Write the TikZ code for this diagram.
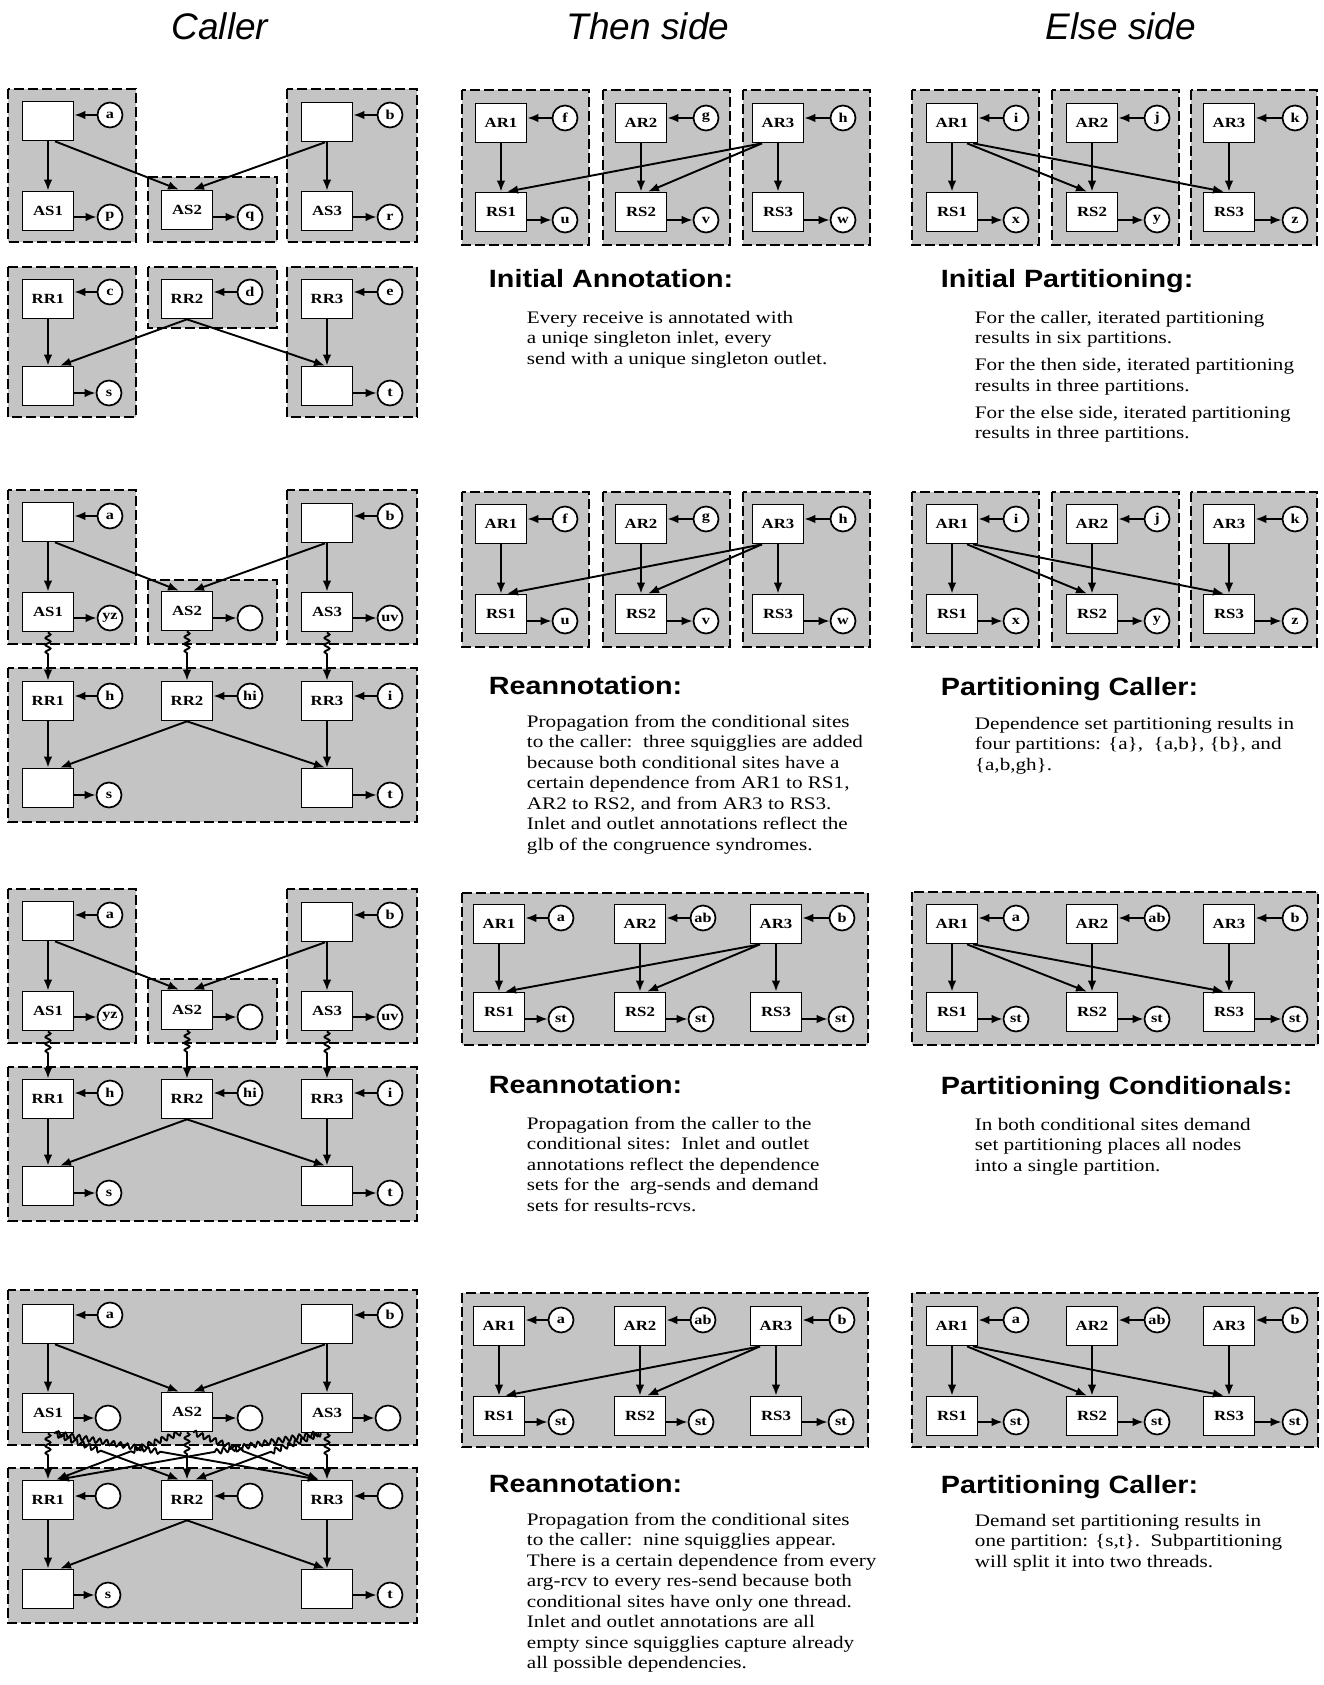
\documentclass[tikz,border=0pt]{standalone}
\usepackage{fontspec}
\setmainfont{Liberation Serif}[FakeStretch=1.2]
\newfontfamily\headfont{Liberation Sans}[FakeStretch=1.15]
\newfontfamily\titlefont{Liberation Sans}
\usetikzlibrary{arrows.meta,calc,decorations.pathmorphing}

\tikzset{
  opbox/.style={draw, rectangle, line width=1.7pt, fill=white, minimum width=51pt, minimum height=39pt, inner sep=0pt, font=\fontsize{14}{14}\selectfont\bfseries},
  tagcirc/.style={draw, circle, line width=1.7pt, fill=white, minimum size=25pt, inner sep=0pt, font=\fontsize{13.5}{13.5}\selectfont\bfseries},
  partbox/.style={draw, line width=2.3pt, dash pattern=on 10pt off 4pt, fill=black!23},
  headline/.style={anchor=base west, inner sep=0pt, font=\headfont\fontsize{25}{25}\selectfont\bfseries},
  notetext/.style={anchor=north west, align=left, inner sep=0pt, font=\fontsize{17.6}{20.5}\selectfont},
  coltitle/.style={anchor=base, inner sep=0pt, font=\titlefont\fontsize{37}{37}\selectfont\itshape},
  squig/.style={decoration={snake, amplitude=2.5pt, segment length=7pt}},
}

\begin{document}
\begin{tikzpicture}[x=1pt, y=-1pt, line width=1.9pt, >={Latex[length=11pt,width=8.5pt]}]
\fill[white] (0,0) rectangle (1323,1685);
\useasboundingbox (0,0) rectangle (1323,1685);

\node[coltitle] (caller) at (220,40) {Caller};
\node[coltitle] (thenside) at (648,40) {Then side};
\node[coltitle] (elseside) at (1121,40) {Else side};

% caller, row 1
\draw[partbox] (8,89) rectangle (136,242);
\draw[partbox] (148,177) rectangle (277,242);
\draw[partbox] (287,89) rectangle (417,242);
\draw[partbox] (8,267) rectangle (136,417);
\draw[partbox] (148,267) rectangle (277,328);
\draw[partbox] (287,267) rectangle (417,417);
\node[opbox] (c1tl) at (48,121) {};
\node[tagcirc] (c1tli) at (110,115) {a};
\node[opbox] (c1tr) at (327,122) {};
\node[tagcirc] (c1tri) at (390,115) {b};
\node[opbox] (c1as1) at (48,211) {AS1};
\node[tagcirc] (c1as1o) at (110,217) {p};
\node[opbox] (c1as2) at (187,210) {AS2};
\node[tagcirc] (c1as2o) at (250,217) {q};
\node[opbox] (c1as3) at (327,211) {AS3};
\node[tagcirc] (c1as3o) at (390,217) {r};
\node[opbox] (c1rr1) at (48,299) {RR1};
\node[tagcirc] (c1rr1i) at (110,292) {c};
\node[opbox] (c1rr2) at (187,299) {RR2};
\node[tagcirc] (c1rr2i) at (250,292) {d};
\node[opbox] (c1rr3) at (327,299) {RR3};
\node[tagcirc] (c1rr3i) at (390,292) {e};
\node[opbox] (c1bl) at (48,386) {};
\node[tagcirc] (c1blo) at (109,393) {s};
\node[opbox] (c1br) at (327,386) {};
\node[tagcirc] (c1bro) at (390,393) {t};
\draw[->] (c1tli) -- (c1tl.east |- c1tli);
\draw[->] (c1tri) -- (c1tr.east |- c1tri);
\draw[->] (c1as1.east |- c1as1o) -- (c1as1o);
\draw[->] (c1as2.east |- c1as2o) -- (c1as2o);
\draw[->] (c1as3.east |- c1as3o) -- (c1as3o);
\draw[->] (c1rr1i) -- (c1rr1.east |- c1rr1i);
\draw[->] (c1rr2i) -- (c1rr2.east |- c1rr2i);
\draw[->] (c1rr3i) -- (c1rr3.east |- c1rr3i);
\draw[->] (c1bl.east |- c1blo) -- (c1blo);
\draw[->] (c1br.east |- c1bro) -- (c1bro);
\draw[->] (c1tl) -- (c1as1);
\draw[->] ([xshift=7pt]c1tl.south) -- ([xshift=-8pt]c1as2.north);
\draw[->] ([xshift=-2pt]c1tr.south) -- ([xshift=6pt]c1as2.north);
\draw[->] (c1tr) -- (c1as3);
\draw[->] (c1rr1) -- (c1bl);
\draw[->] (c1rr2.south) -- ([xshift=12pt]c1bl.north);
\draw[->] (c1rr2.south) -- ([xshift=-2pt]c1br.north);
\draw[->] (c1rr3) -- (c1br);

% caller, row 2
\begin{scope}[shift={(0,401)}]
\draw[partbox] (8,89) rectangle (136,243);
\draw[partbox] (148,179) rectangle (277,243);
\draw[partbox] (287,89) rectangle (417,243);
\draw[partbox] (8,267) rectangle (417,421);
\node[opbox] (c2tl) at (48,121) {};
\node[tagcirc] (c2tli) at (110,115) {a};
\node[opbox] (c2tr) at (327,122) {};
\node[tagcirc] (c2tri) at (390,115) {b};
\node[opbox] (c2as1) at (48,211) {AS1};
\node[tagcirc] (c2as1o) at (110,217) {yz};
\node[opbox] (c2as2) at (187,210) {AS2};
\node[tagcirc] (c2as2o) at (250,217) {};
\node[opbox] (c2as3) at (327,211) {AS3};
\node[tagcirc] (c2as3o) at (390,217) {uv};
\node[opbox] (c2rr1) at (48,300) {RR1};
\node[tagcirc] (c2rr1i) at (110,295) {h};
\node[opbox] (c2rr2) at (187,300) {RR2};
\node[tagcirc] (c2rr2i) at (250,295) {hi};
\node[opbox] (c2rr3) at (327,300) {RR3};
\node[tagcirc] (c2rr3i) at (390,295) {i};
\node[opbox] (c2bl) at (48,387) {};
\node[tagcirc] (c2blo) at (109,394) {s};
\node[opbox] (c2br) at (327,387) {};
\node[tagcirc] (c2bro) at (390,394) {t};
\end{scope}
\draw[->] (c2tli) -- (c2tl.east |- c2tli);
\draw[->] (c2tri) -- (c2tr.east |- c2tri);
\draw[->] (c2as1.east |- c2as1o) -- (c2as1o);
\draw[->] (c2as2.east |- c2as2o) -- (c2as2o);
\draw[->] (c2as3.east |- c2as3o) -- (c2as3o);
\draw[->] (c2rr1i) -- (c2rr1.east |- c2rr1i);
\draw[->] (c2rr2i) -- (c2rr2.east |- c2rr2i);
\draw[->] (c2rr3i) -- (c2rr3.east |- c2rr3i);
\draw[->] (c2bl.east |- c2blo) -- (c2blo);
\draw[->] (c2br.east |- c2bro) -- (c2bro);
\draw[->] (c2tl) -- (c2as1);
\draw[->] ([xshift=7pt]c2tl.south) -- ([xshift=-8pt]c2as2.north);
\draw[->] ([xshift=-2pt]c2tr.south) -- ([xshift=6pt]c2as2.north);
\draw[->] (c2tr) -- (c2as3);
\draw[->] (c2as1.south) decorate[squig] {-- ($(c2as1.south)!0.5!(c2rr1.north)$)} -- (c2rr1.north);
\draw[->] (c2as2.south) decorate[squig] {-- ($(c2as2.south)!0.5!(c2rr2.north)$)} -- (c2rr2.north);
\draw[->] (c2as3.south) decorate[squig] {-- ($(c2as3.south)!0.5!(c2rr3.north)$)} -- (c2rr3.north);
\draw[->] (c2rr1) -- (c2bl);
\draw[->] (c2rr2.south) -- ([xshift=12pt]c2bl.north);
\draw[->] (c2rr2.south) -- ([xshift=-2pt]c2br.north);
\draw[->] (c2rr3) -- (c2br);

% caller, row 3
\begin{scope}[shift={(0,800)}]
\draw[partbox] (8,89) rectangle (136,243);
\draw[partbox] (148,179) rectangle (277,243);
\draw[partbox] (287,89) rectangle (417,243);
\draw[partbox] (8,267) rectangle (417,421);
\node[opbox] (c3tl) at (48,121) {};
\node[tagcirc] (c3tli) at (110,115) {a};
\node[opbox] (c3tr) at (327,122) {};
\node[tagcirc] (c3tri) at (390,115) {b};
\node[opbox] (c3as1) at (48,211) {AS1};
\node[tagcirc] (c3as1o) at (110,217) {yz};
\node[opbox] (c3as2) at (187,210) {AS2};
\node[tagcirc] (c3as2o) at (250,217) {};
\node[opbox] (c3as3) at (327,211) {AS3};
\node[tagcirc] (c3as3o) at (390,217) {uv};
\node[opbox] (c3rr1) at (48,299) {RR1};
\node[tagcirc] (c3rr1i) at (110,293) {h};
\node[opbox] (c3rr2) at (187,299) {RR2};
\node[tagcirc] (c3rr2i) at (250,293) {hi};
\node[opbox] (c3rr3) at (327,299) {RR3};
\node[tagcirc] (c3rr3i) at (390,293) {i};
\node[opbox] (c3bl) at (48,386) {};
\node[tagcirc] (c3blo) at (109,393) {s};
\node[opbox] (c3br) at (327,386) {};
\node[tagcirc] (c3bro) at (390,393) {t};
\end{scope}
\draw[->] (c3tli) -- (c3tl.east |- c3tli);
\draw[->] (c3tri) -- (c3tr.east |- c3tri);
\draw[->] (c3as1.east |- c3as1o) -- (c3as1o);
\draw[->] (c3as2.east |- c3as2o) -- (c3as2o);
\draw[->] (c3as3.east |- c3as3o) -- (c3as3o);
\draw[->] (c3rr1i) -- (c3rr1.east |- c3rr1i);
\draw[->] (c3rr2i) -- (c3rr2.east |- c3rr2i);
\draw[->] (c3rr3i) -- (c3rr3.east |- c3rr3i);
\draw[->] (c3bl.east |- c3blo) -- (c3blo);
\draw[->] (c3br.east |- c3bro) -- (c3bro);
\draw[->] (c3tl) -- (c3as1);
\draw[->] ([xshift=7pt]c3tl.south) -- ([xshift=-8pt]c3as2.north);
\draw[->] ([xshift=-2pt]c3tr.south) -- ([xshift=6pt]c3as2.north);
\draw[->] (c3tr) -- (c3as3);
\draw[->] (c3as1.south) decorate[squig] {-- ($(c3as1.south)!0.5!(c3rr1.north)$)} -- (c3rr1.north);
\draw[->] (c3as2.south) decorate[squig] {-- ($(c3as2.south)!0.5!(c3rr2.north)$)} -- (c3rr2.north);
\draw[->] (c3as3.south) decorate[squig] {-- ($(c3as3.south)!0.5!(c3rr3.north)$)} -- (c3rr3.north);
\draw[->] (c3rr1) -- (c3bl);
\draw[->] (c3rr2.south) -- ([xshift=12pt]c3bl.north);
\draw[->] (c3rr2.south) -- ([xshift=-2pt]c3br.north);
\draw[->] (c3rr3) -- (c3br);

% caller, row 4
\begin{scope}[shift={(0,1202)}]
\draw[partbox] (8,88) rectangle (417,243);
\draw[partbox] (8,266) rectangle (417,421);
\node[opbox] (c4tl) at (48,122) {};
\node[tagcirc] (c4tli) at (110,113) {a};
\node[opbox] (c4tr) at (327,122) {};
\node[tagcirc] (c4tri) at (390,113) {b};
\node[opbox] (c4as1) at (48,211) {AS1};
\node[tagcirc] (c4as1o) at (108,216) {};
\node[opbox] (c4as2) at (187,210) {AS2};
\node[tagcirc] (c4as2o) at (250,216) {};
\node[opbox] (c4as3) at (327,211) {AS3};
\node[tagcirc] (c4as3o) at (388,216) {};
\node[opbox] (c4rr1) at (48,298) {RR1};
\node[tagcirc] (c4rr1i) at (108,294) {};
\node[opbox] (c4rr2) at (187,298) {RR2};
\node[tagcirc] (c4rr2i) at (250,294) {};
\node[opbox] (c4rr3) at (327,298) {RR3};
\node[tagcirc] (c4rr3i) at (390,294) {};
\node[opbox] (c4bl) at (48,387) {};
\node[tagcirc] (c4blo) at (108,393) {s};
\node[opbox] (c4br) at (327,387) {};
\node[tagcirc] (c4bro) at (390,393) {t};
\end{scope}
\draw[->] (c4tli) -- (c4tl.east |- c4tli);
\draw[->] (c4tri) -- (c4tr.east |- c4tri);
\draw[->] (c4as1.east |- c4as1o) -- (c4as1o);
\draw[->] (c4as2.east |- c4as2o) -- (c4as2o);
\draw[->] (c4as3.east |- c4as3o) -- (c4as3o);
\draw[->] (c4rr1i) -- (c4rr1.east |- c4rr1i);
\draw[->] (c4rr2i) -- (c4rr2.east |- c4rr2i);
\draw[->] (c4rr3i) -- (c4rr3.east |- c4rr3i);
\draw[->] (c4bl.east |- c4blo) -- (c4blo);
\draw[->] (c4br.east |- c4bro) -- (c4bro);
\draw[->] (c4tl) -- (c4as1);
\draw[->] ([xshift=7pt]c4tl.south) -- ([xshift=-8pt]c4as2.north);
\draw[->] ([xshift=-2pt]c4tr.south) -- ([xshift=6pt]c4as2.north);
\draw[->] (c4tr) -- (c4as3);
\draw[->] (c4as1.south) decorate[squig] {-- ($(c4as1.south)!0.5!(c4rr1.north)$)} -- (c4rr1.north);
\draw[->] (c4as2.south) decorate[squig] {-- ($(c4as2.south)!0.5!(c4rr2.north)$)} -- (c4rr2.north);
\draw[->] (c4as3.south) decorate[squig] {-- ($(c4as3.south)!0.5!(c4rr3.north)$)} -- (c4rr3.north);
\draw[->] ([xshift=6pt]c4as1.south) decorate[squig] {-- ($([xshift=6pt]c4as1.south)!0.4!([xshift=-8pt]c4rr2.north)$)} -- ([xshift=-8pt]c4rr2.north);
\draw[->] ([xshift=8pt]c4as1.south) decorate[squig] {-- ($([xshift=8pt]c4as1.south)!0.4!([xshift=-8pt]c4rr3.north)$)} -- ([xshift=-8pt]c4rr3.north);
\draw[->] ([xshift=-6pt]c4as2.south) decorate[squig] {-- ($([xshift=-6pt]c4as2.south)!0.4!([xshift=8pt]c4rr1.north)$)} -- ([xshift=8pt]c4rr1.north);
\draw[->] ([xshift=6pt]c4as2.south) decorate[squig] {-- ($([xshift=6pt]c4as2.south)!0.4!([xshift=-8pt]c4rr3.north)$)} -- ([xshift=-8pt]c4rr3.north);
\draw[->] ([xshift=-8pt]c4as3.south) decorate[squig] {-- ($([xshift=-8pt]c4as3.south)!0.4!([xshift=10pt]c4rr1.north)$)} -- ([xshift=10pt]c4rr1.north);
\draw[->] ([xshift=-6pt]c4as3.south) decorate[squig] {-- ($([xshift=-6pt]c4as3.south)!0.4!([xshift=8pt]c4rr2.north)$)} -- ([xshift=8pt]c4rr2.north);
\draw[->] (c4rr1) -- (c4bl);
\draw[->] (c4rr2.south) -- ([xshift=12pt]c4bl.north);
\draw[->] (c4rr2.south) -- ([xshift=-2pt]c4br.north);
\draw[->] (c4rr3) -- (c4br);

% then side, row 1
\draw[partbox] (462,90) rectangle (589,245);
\draw[partbox] (603,90) rectangle (730,245);
\draw[partbox] (743,90) rectangle (870,245);
\node[opbox] (t1ar1) at (501,123) {AR1};
\node[tagcirc] (t1ar1i) at (565,118) {f};
\node[opbox] (t1ar2) at (641,123) {AR2};
\node[tagcirc] (t1ar2i) at (706,118) {g};
\node[opbox] (t1ar3) at (778,123) {AR3};
\node[tagcirc] (t1ar3i) at (843,118) {h};
\node[opbox] (t1rs1) at (501,212) {RS1};
\node[tagcirc] (t1rs1o) at (565,220) {u};
\node[opbox] (t1rs2) at (641,212) {RS2};
\node[tagcirc] (t1rs2o) at (706,220) {v};
\node[opbox] (t1rs3) at (778,212) {RS3};
\node[tagcirc] (t1rs3o) at (843,220) {w};
\draw[->] (t1ar1i) -- (t1ar1.east |- t1ar1i);
\draw[->] (t1ar2i) -- (t1ar2.east |- t1ar2i);
\draw[->] (t1ar3i) -- (t1ar3.east |- t1ar3i);
\draw[->] (t1rs1.east |- t1rs1o) -- (t1rs1o);
\draw[->] (t1rs2.east |- t1rs2o) -- (t1rs2o);
\draw[->] (t1rs3.east |- t1rs3o) -- (t1rs3o);
\draw[->] (t1ar1) -- (t1rs1);
\draw[->] (t1ar2) -- (t1rs2);
\draw[->] (t1ar3) -- (t1rs3);
\draw[->] ([xshift=-16pt]t1ar3.south) -- ([xshift=6pt]t1rs1.north);
\draw[->] ([xshift=-16pt]t1ar3.south) -- ([xshift=7pt]t1rs2.north);

% then side, row 2
\begin{scope}[shift={(0,401)}]
\draw[partbox] (462,91) rectangle (589,246);
\draw[partbox] (603,91) rectangle (730,246);
\draw[partbox] (743,91) rectangle (870,246);
\node[opbox] (t2ar1) at (501,123) {AR1};
\node[tagcirc] (t2ar1i) at (565,118) {f};
\node[opbox] (t2ar2) at (641,123) {AR2};
\node[tagcirc] (t2ar2i) at (706,118) {g};
\node[opbox] (t2ar3) at (778,123) {AR3};
\node[tagcirc] (t2ar3i) at (843,118) {h};
\node[opbox] (t2rs1) at (501,213) {RS1};
\node[tagcirc] (t2rs1o) at (565,220) {u};
\node[opbox] (t2rs2) at (641,213) {RS2};
\node[tagcirc] (t2rs2o) at (706,220) {v};
\node[opbox] (t2rs3) at (778,213) {RS3};
\node[tagcirc] (t2rs3o) at (843,220) {w};
\end{scope}
\draw[->] (t2ar1i) -- (t2ar1.east |- t2ar1i);
\draw[->] (t2ar2i) -- (t2ar2.east |- t2ar2i);
\draw[->] (t2ar3i) -- (t2ar3.east |- t2ar3i);
\draw[->] (t2rs1.east |- t2rs1o) -- (t2rs1o);
\draw[->] (t2rs2.east |- t2rs2o) -- (t2rs2o);
\draw[->] (t2rs3.east |- t2rs3o) -- (t2rs3o);
\draw[->] (t2ar1) -- (t2rs1);
\draw[->] (t2ar2) -- (t2rs2);
\draw[->] (t2ar3) -- (t2rs3);
\draw[->] ([xshift=-16pt]t2ar3.south) -- ([xshift=6pt]t2rs1.north);
\draw[->] ([xshift=-16pt]t2ar3.south) -- ([xshift=7pt]t2rs2.north);

% then side, row 3
\begin{scope}[shift={(0,800)}]
\draw[partbox] (462,93) rectangle (868,245);
\node[opbox] (t3ar1) at (499,124) {AR1};
\node[tagcirc] (t3ar1i) at (561,118) {a};
\node[opbox] (t3ar2) at (640,124) {AR2};
\node[tagcirc] (t3ar2i) at (703,118) {ab};
\node[opbox] (t3ar3) at (776,124) {AR3};
\node[tagcirc] (t3ar3i) at (842,118) {b};
\node[opbox] (t3rs1) at (499,212) {RS1};
\node[tagcirc] (t3rs1o) at (561,219) {st};
\node[opbox] (t3rs2) at (640,212) {RS2};
\node[tagcirc] (t3rs2o) at (701,219) {st};
\node[opbox] (t3rs3) at (776,212) {RS3};
\node[tagcirc] (t3rs3o) at (841,219) {st};
\end{scope}
\draw[->] (t3ar1i) -- (t3ar1.east |- t3ar1i);
\draw[->] (t3ar2i) -- (t3ar2.east |- t3ar2i);
\draw[->] (t3ar3i) -- (t3ar3.east |- t3ar3i);
\draw[->] (t3rs1.east |- t3rs1o) -- (t3rs1o);
\draw[->] (t3rs2.east |- t3rs2o) -- (t3rs2o);
\draw[->] (t3rs3.east |- t3rs3o) -- (t3rs3o);
\draw[->] (t3ar1) -- (t3rs1);
\draw[->] (t3ar2) -- (t3rs2);
\draw[->] (t3ar3) -- (t3rs3);
\draw[->] ([xshift=-16pt]t3ar3.south) -- ([xshift=6pt]t3rs1.north);
\draw[->] ([xshift=-16pt]t3ar3.south) -- ([xshift=7pt]t3rs2.north);

% then side, row 4
\begin{scope}[shift={(0,1202)}]
\draw[partbox] (462,91) rectangle (868,245);
\node[opbox] (t4ar1) at (499,124) {AR1};
\node[tagcirc] (t4ar1i) at (561,118) {a};
\node[opbox] (t4ar2) at (640,124) {AR2};
\node[tagcirc] (t4ar2i) at (703,118) {ab};
\node[opbox] (t4ar3) at (776,124) {AR3};
\node[tagcirc] (t4ar3i) at (842,118) {b};
\node[opbox] (t4rs1) at (499,214) {RS1};
\node[tagcirc] (t4rs1o) at (561,220) {st};
\node[opbox] (t4rs2) at (640,214) {RS2};
\node[tagcirc] (t4rs2o) at (701,220) {st};
\node[opbox] (t4rs3) at (776,214) {RS3};
\node[tagcirc] (t4rs3o) at (841,220) {st};
\end{scope}
\draw[->] (t4ar1i) -- (t4ar1.east |- t4ar1i);
\draw[->] (t4ar2i) -- (t4ar2.east |- t4ar2i);
\draw[->] (t4ar3i) -- (t4ar3.east |- t4ar3i);
\draw[->] (t4rs1.east |- t4rs1o) -- (t4rs1o);
\draw[->] (t4rs2.east |- t4rs2o) -- (t4rs2o);
\draw[->] (t4rs3.east |- t4rs3o) -- (t4rs3o);
\draw[->] (t4ar1) -- (t4rs1);
\draw[->] (t4ar2) -- (t4rs2);
\draw[->] (t4ar3) -- (t4rs3);
\draw[->] ([xshift=-16pt]t4ar3.south) -- ([xshift=6pt]t4rs1.north);
\draw[->] ([xshift=-16pt]t4ar3.south) -- ([xshift=7pt]t4rs2.north);

% else side, row 1
\draw[partbox] (912,90) rectangle (1039,245);
\draw[partbox] (1052,90) rectangle (1179,245);
\draw[partbox] (1191,90) rectangle (1317,245);
\node[opbox] (e1ar1) at (952,123) {AR1};
\node[tagcirc] (e1ar1i) at (1016,118) {i};
\node[opbox] (e1ar2) at (1092,123) {AR2};
\node[tagcirc] (e1ar2i) at (1157,118) {j};
\node[opbox] (e1ar3) at (1229,123) {AR3};
\node[tagcirc] (e1ar3i) at (1295,118) {k};
\node[opbox] (e1rs1) at (952,212) {RS1};
\node[tagcirc] (e1rs1o) at (1016,220) {x};
\node[opbox] (e1rs2) at (1092,212) {RS2};
\node[tagcirc] (e1rs2o) at (1157,220) {y};
\node[opbox] (e1rs3) at (1229,212) {RS3};
\node[tagcirc] (e1rs3o) at (1295,220) {z};
\draw[->] (e1ar1i) -- (e1ar1.east |- e1ar1i);
\draw[->] (e1ar2i) -- (e1ar2.east |- e1ar2i);
\draw[->] (e1ar3i) -- (e1ar3.east |- e1ar3i);
\draw[->] (e1rs1.east |- e1rs1o) -- (e1rs1o);
\draw[->] (e1rs2.east |- e1rs2o) -- (e1rs2o);
\draw[->] (e1rs3.east |- e1rs3o) -- (e1rs3o);
\draw[->] (e1ar1) -- (e1rs1);
\draw[->] (e1ar2) -- (e1rs2);
\draw[->] (e1ar3) -- (e1rs3);
\draw[->] ([xshift=15pt]e1ar1.south) -- ([xshift=-5pt]e1rs2.north);
\draw[->] ([xshift=21pt]e1ar1.south) -- ([xshift=-5pt]e1rs3.north);

% else side, row 2
\begin{scope}[shift={(0,401)}]
\draw[partbox] (912,91) rectangle (1039,246);
\draw[partbox] (1052,91) rectangle (1179,246);
\draw[partbox] (1191,91) rectangle (1317,246);
\node[opbox] (e2ar1) at (952,123) {AR1};
\node[tagcirc] (e2ar1i) at (1016,118) {i};
\node[opbox] (e2ar2) at (1092,123) {AR2};
\node[tagcirc] (e2ar2i) at (1157,118) {j};
\node[opbox] (e2ar3) at (1229,123) {AR3};
\node[tagcirc] (e2ar3i) at (1295,118) {k};
\node[opbox] (e2rs1) at (952,213) {RS1};
\node[tagcirc] (e2rs1o) at (1016,220) {x};
\node[opbox] (e2rs2) at (1092,213) {RS2};
\node[tagcirc] (e2rs2o) at (1157,220) {y};
\node[opbox] (e2rs3) at (1229,213) {RS3};
\node[tagcirc] (e2rs3o) at (1295,220) {z};
\end{scope}
\draw[->] (e2ar1i) -- (e2ar1.east |- e2ar1i);
\draw[->] (e2ar2i) -- (e2ar2.east |- e2ar2i);
\draw[->] (e2ar3i) -- (e2ar3.east |- e2ar3i);
\draw[->] (e2rs1.east |- e2rs1o) -- (e2rs1o);
\draw[->] (e2rs2.east |- e2rs2o) -- (e2rs2o);
\draw[->] (e2rs3.east |- e2rs3o) -- (e2rs3o);
\draw[->] (e2ar1) -- (e2rs1);
\draw[->] (e2ar2) -- (e2rs2);
\draw[->] (e2ar3) -- (e2rs3);
\draw[->] ([xshift=15pt]e2ar1.south) -- ([xshift=-5pt]e2rs2.north);
\draw[->] ([xshift=21pt]e2ar1.south) -- ([xshift=-5pt]e2rs3.north);

% else side, row 3
\begin{scope}[shift={(0,800)}]
\draw[partbox] (912,92) rectangle (1318,245);
\node[opbox] (e3ar1) at (952,124) {AR1};
\node[tagcirc] (e3ar1i) at (1016,118) {a};
\node[opbox] (e3ar2) at (1092,124) {AR2};
\node[tagcirc] (e3ar2i) at (1157,118) {ab};
\node[opbox] (e3ar3) at (1229,124) {AR3};
\node[tagcirc] (e3ar3i) at (1295,118) {b};
\node[opbox] (e3rs1) at (952,212) {RS1};
\node[tagcirc] (e3rs1o) at (1016,219) {st};
\node[opbox] (e3rs2) at (1092,212) {RS2};
\node[tagcirc] (e3rs2o) at (1157,219) {st};
\node[opbox] (e3rs3) at (1229,212) {RS3};
\node[tagcirc] (e3rs3o) at (1295,219) {st};
\end{scope}
\draw[->] (e3ar1i) -- (e3ar1.east |- e3ar1i);
\draw[->] (e3ar2i) -- (e3ar2.east |- e3ar2i);
\draw[->] (e3ar3i) -- (e3ar3.east |- e3ar3i);
\draw[->] (e3rs1.east |- e3rs1o) -- (e3rs1o);
\draw[->] (e3rs2.east |- e3rs2o) -- (e3rs2o);
\draw[->] (e3rs3.east |- e3rs3o) -- (e3rs3o);
\draw[->] (e3ar1) -- (e3rs1);
\draw[->] (e3ar2) -- (e3rs2);
\draw[->] (e3ar3) -- (e3rs3);
\draw[->] ([xshift=15pt]e3ar1.south) -- ([xshift=-5pt]e3rs2.north);
\draw[->] ([xshift=21pt]e3ar1.south) -- ([xshift=-5pt]e3rs3.north);

% else side, row 4
\begin{scope}[shift={(0,1202)}]
\draw[partbox] (912,91) rectangle (1318,245);
\node[opbox] (e4ar1) at (952,124) {AR1};
\node[tagcirc] (e4ar1i) at (1016,118) {a};
\node[opbox] (e4ar2) at (1092,124) {AR2};
\node[tagcirc] (e4ar2i) at (1157,118) {ab};
\node[opbox] (e4ar3) at (1229,124) {AR3};
\node[tagcirc] (e4ar3i) at (1295,118) {b};
\node[opbox] (e4rs1) at (952,214) {RS1};
\node[tagcirc] (e4rs1o) at (1016,220) {st};
\node[opbox] (e4rs2) at (1092,214) {RS2};
\node[tagcirc] (e4rs2o) at (1157,220) {st};
\node[opbox] (e4rs3) at (1229,214) {RS3};
\node[tagcirc] (e4rs3o) at (1295,220) {st};
\end{scope}
\draw[->] (e4ar1i) -- (e4ar1.east |- e4ar1i);
\draw[->] (e4ar2i) -- (e4ar2.east |- e4ar2i);
\draw[->] (e4ar3i) -- (e4ar3.east |- e4ar3i);
\draw[->] (e4rs1.east |- e4rs1o) -- (e4rs1o);
\draw[->] (e4rs2.east |- e4rs2o) -- (e4rs2o);
\draw[->] (e4rs3.east |- e4rs3o) -- (e4rs3o);
\draw[->] (e4ar1) -- (e4rs1);
\draw[->] (e4ar2) -- (e4rs2);
\draw[->] (e4ar3) -- (e4rs3);
\draw[->] ([xshift=15pt]e4ar1.south) -- ([xshift=-5pt]e4rs2.north);
\draw[->] ([xshift=21pt]e4ar1.south) -- ([xshift=-5pt]e4rs3.north);

% headings and notes
\node[headline] (h1t) at (488,288) {Initial Annotation:};
\node[notetext] (n1t) at (526,310) {Every receive is annotated with\\a uniqe singleton inlet, every\\send with a unique singleton outlet.};
\node[headline] (h1e) at (940,288) {Initial Partitioning:};
\node[notetext] (n1e) at (974,310) {For the caller, iterated partitioning\\results in six partitions.\\[6.5pt]For the then side, iterated partitioning\\results in three partitions.\\[6.5pt]For the else side, iterated partitioning\\results in three partitions.};
\node[headline] (h2t) at (488,694) {Reannotation:};
\node[notetext] (n2t) at (526,714) {Propagation from the conditional sites\\to the caller:\ \ three squigglies are added\\because both conditional sites have a\\certain dependence from AR1 to RS1,\\AR2 to RS2, and from AR3 to RS3.\\Inlet and outlet annotations reflect the\\glb of the congruence syndromes.};
\node[headline] (h2e) at (940,695) {Partitioning Caller:};
\node[notetext] (n2e) at (974,716) {Dependence set partitioning results in\\four partitions: \{a\},\ \ \{a,b\}, \{b\}, and\\\{a,b,gh\}.};
\node[headline] (h3t) at (488,1093) {Reannotation:};
\node[notetext] (n3t) at (526,1116) {Propagation from the caller to the\\conditional sites:\ \ Inlet and outlet\\annotations reflect the dependence\\sets for the\ \ arg-sends and demand\\sets for results-rcvs.};
\node[headline] (h3e) at (940,1094) {Partitioning Conditionals:};
\node[notetext] (n3e) at (974,1117) {In both conditional sites demand\\set partitioning places all nodes\\into a single partition.};
\node[headline] (h4t) at (488,1492) {Reannotation:};
\node[notetext] (n4t) at (526,1512) {Propagation from the conditional sites\\to the caller:\ \ nine squigglies appear.\\There is a certain dependence from every\\arg-rcv to every res-send because both\\conditional sites have only one thread.\\Inlet and outlet annotations are all\\empty since squigglies capture already\\all possible dependencies.};
\node[headline] (h4e) at (940,1493) {Partitioning Caller:};
\node[notetext] (n4e) at (974,1513) {Demand set partitioning results in\\one partition: \{s,t\}.\ \ Subpartitioning\\will split it into two threads.};
\end{tikzpicture}
\end{document}
